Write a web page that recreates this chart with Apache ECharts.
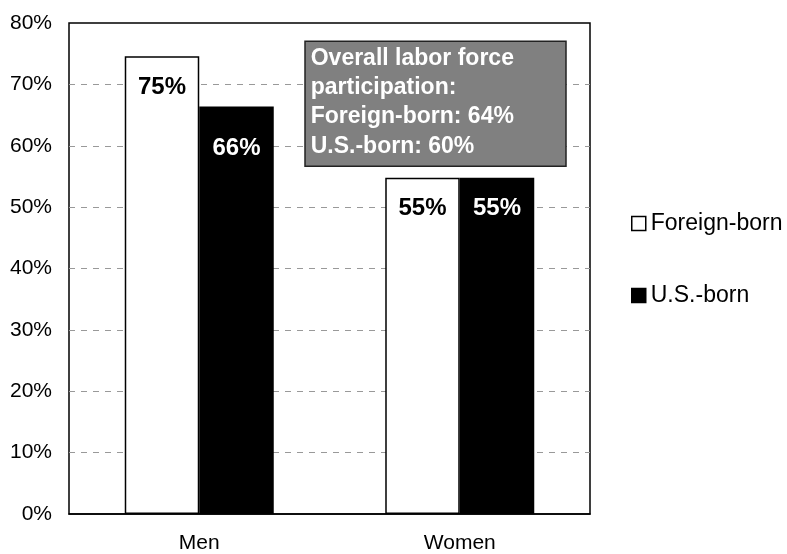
<!DOCTYPE html>
<html>
<head>
<meta charset="utf-8">
<script src="https://cdn.jsdelivr.net/npm/echarts@6/dist/echarts.min.js"></script>
<style>html,body{margin:0;padding:0;background:#fff;}#c{width:787px;height:554px;}</style>
</head>
<body>
<div id="c"></div>
<script>
const categories = ['Men', 'Women'];
const foreignBorn = [74.6, 54.8];
const usBorn = [66.4, 54.8];
const seriesNames = ['Foreign-born', 'U.S.-born'];
const foreignLabelOffsets = [31.5, 30.5];
const usLabelOffsets = [42, 30.5];
const noteLines = ['Overall labor force', 'participation:', 'Foreign-born: 64%', 'U.S.-born: 60%'];

const FONT = '"Liberation Sans", Arial, Helvetica, sans-serif';
const chart = echarts.init(document.getElementById('c'), null, {renderer: 'canvas'});

function mkData(vals, offs, color) {
  return vals.map((v, i) => ({
    value: v,
    label: {
      show: true,
      position: ['50%', offs[i]],
      align: 'center',
      verticalAlign: 'middle',
      formatter: Math.round(v) + '%',
      color: color,
      fontSize: 24,
      fontWeight: 'bold',
      fontFamily: FONT
    }
  }));
}

chart.setOption({
  animation: false,
  backgroundColor: '#fff',
  grid: {left: 69, right: 197, top: 23, bottom: 39, show: true, borderColor: '#000', borderWidth: 1.5, backgroundColor: 'transparent'},
  legend: {
    orient: 'vertical',
    left: 631,
    top: 211,
    padding: 0,
    itemWidth: 14,
    itemHeight: 14,
    itemGap: 47,
    textStyle: {fontSize: 23, color: '#000', fontFamily: FONT, lineHeight: 25},
    data: [
      {name: seriesNames[0], icon: 'rect', itemStyle: {color: '#fff', borderColor: '#000', borderWidth: 1.5}},
      {name: seriesNames[1], icon: 'rect', itemStyle: {color: '#000', borderColor: '#000', borderWidth: 1.5}}
    ]
  },
  xAxis: {
    type: 'category',
    data: categories,
    axisTick: {show: false},
    axisLine: {show: true, lineStyle: {color: '#000', width: 1.5}},
    axisLabel: {fontSize: 21, color: '#000', fontFamily: FONT, margin: 19}
  },
  yAxis: {
    type: 'value',
    min: 0, max: 80, interval: 10,
    axisLine: {show: false},
    axisTick: {show: false},
    axisLabel: {formatter: '{value}%', fontSize: 21, color: '#000', fontFamily: FONT, margin: 17},
    splitLine: {show: true, showMinLine: false, showMaxLine: false, lineStyle: {color: '#999', type: [6, 6], width: 1}}
  },
  series: [
    {
      name: seriesNames[0], type: 'bar', barWidth: '28.6%', barGap: '0%',
      itemStyle: {color: '#fff', borderColor: '#000', borderWidth: 1.5},
      data: mkData(foreignBorn, foreignLabelOffsets, '#000')
    },
    {
      name: seriesNames[1], type: 'bar', barWidth: '28.6%', barGap: '0%',
      itemStyle: {color: '#000', borderColor: '#000', borderWidth: 1.5},
      data: mkData(usBorn, usLabelOffsets, '#fff')
    }
  ],
  graphic: [
    {type: 'rect', z: 100, zlevel: 1, shape: {x: 305, y: 41.3, width: 261, height: 125}, style: {fill: '#808080', stroke: '#222', lineWidth: 1.5}},
    {type: 'text', z: 101, zlevel: 1, x: 310.7, y: 43.6, style: {text: noteLines.join('\n'), fill: '#fff', fontSize: 23, fontWeight: 'bold', fontFamily: FONT, lineHeight: 29.4, verticalAlign: 'top', align: 'left'}}
  ]
});
</script>
</body>
</html>
